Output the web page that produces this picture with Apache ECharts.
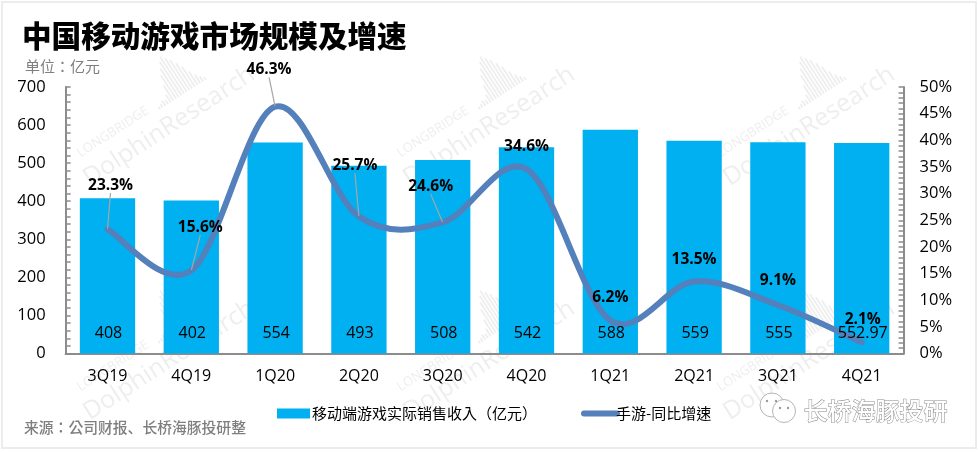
<!DOCTYPE html>
<html><head><meta charset="utf-8">
<style>html,body{margin:0;padding:0;background:#fff}#c{width:978px;height:452px}</style>
<script src="https://cdn.jsdelivr.net/npm/echarts@6/dist/echarts.min.js"></script></head>
<body><div id="c"></div>
<script>
const categories = ['3Q19','4Q19','1Q20','2Q20','3Q20','4Q20','1Q21','2Q21','3Q21','4Q21'];
const revenue = [408,402,554,493,508,542,588,559,555,552.97];
const growth = [23.3,15.6,46.3,25.7,24.6,34.6,6.2,13.5,9.1,2.1];
const labelShift = [[3,-44],[9,-43],[-6,-37],[-4,-51],[-12,-36],[0,-23],[0,-23],[0,-22],[0,-24],[1,-23]];
const leader = [true,true,true,true,true,false,false,false,false,false];
const FONT = '"Open Sans","Noto Sans CJK SC",sans-serif';
const CJK = '"Noto Sans CJK SC",sans-serif';
const TC = '"Noto Sans CJK TC",sans-serif';
const LINE = '#5480bc';

const graphics = [];
const WM = 'rgba(170,170,170,0.2)';
function watermark(x, y) {
  const kids = [
    {type:'text', x:0, y:0, style:{text:'LONGBRIDGE', font:'13px "Open Sans"', fill:WM}},
    {type:'text', x:-8, y:20, style:{text:'DolphinResearch', font:'25px "Open Sans"', fill:WM}}
  ];
  const hs = [3,4,6,5,9,18,28,34,40,44,40,36,30,24,16,10,6,3];
  hs.forEach((h,i) => kids.push({type:'rect', shape:{x:92+i*3.2, y:13-h, width:1.8, height:h}, style:{fill:WM}}));
  graphics.push({type:'group', x, y, rotation:33*Math.PI/180, silent:true, z:-1, children:kids});
}
[[75,149],[395,149],[715,149],[75,383],[395,383],[715,383]].forEach(p => watermark(p[0],p[1]));
graphics.push({type:'rect', shape:{x:2,y:2,width:974,height:446}, style:{fill:'none',stroke:'#ececec',lineWidth:2}, silent:true, z:-2});
graphics.push({type:'text', left:22, top:21, style:{text:'中国移动游戏市场规模及增速', font:'900 29.6px '+CJK, fill:'#000'}});
graphics.push({type:'text', left:25, top:59, style:{text:'单位：亿元', font:'15px '+TC, fill:'#7f7f7f'}});
graphics.push({type:'text', left:24, top:420, style:{text:'来源：公司财报{b|、}长桥海豚投研整', font:'500 14.8px '+TC, fill:'#7f7f7f',
  rich:{b:{font:'500 14.8px '+CJK, fill:'#7f7f7f'}}}});
const ico = (cx,cy,r)=>({type:'circle', shape:{cx,cy,r}, style:{fill:'#fff',stroke:'#b5b5b5',lineWidth:1}, z:5});
graphics.push(ico(772,405,12), ico(784,411,11.5));
[[767,401],[776,401],[780,408],[788,408]].forEach(p=>graphics.push({type:'circle',shape:{cx:p[0],cy:p[1],r:1.2},style:{fill:'#999'},z:6}));
graphics.push({type:'text', left:803, top:398, z:5, style:{text:'长桥海豚投研', font:'500 24px '+CJK, fill:'#fff', stroke:'#8c8c8c', lineWidth:1}});

// Spreadsheet-style spline: passes through every data point, tangents from the neighbours.
function renderSpline(params, api) {
  if (params.dataIndex !== 0) return null;
  const pts = growth.map((v,i)=>api.coord([i,v]));
  let d = 'M'+pts[0][0]+' '+pts[0][1];
  for (let i=0;i<pts.length-1;i++){
    const p0=pts[Math.max(i-1,0)],p1=pts[i],p2=pts[i+1],p3=pts[Math.min(i+2,pts.length-1)];
    d += ' C'+(p1[0]+(p2[0]-p0[0])/6)+' '+(p1[1]+(p2[1]-p0[1])/6)+' '+(p2[0]-(p3[0]-p1[0])/6)+' '+(p2[1]-(p3[1]-p1[1])/6)+' '+p2[0]+' '+p2[1];
  }
  return {type:'path', shape:{pathData:d}, style:{fill:'none',stroke:LINE,lineWidth:6,lineCap:'round'}, silent:true};
}
// Bar values sit near the foot of each bar and above the line.
function renderBarValue(params, api) {
  const p = api.coord([api.value(0), 0]);
  return {type:'text', x:p[0]+1, y:p[1]-20, silent:true,
    style:{text:String(api.value(1)), font:'16px "Open Sans"', fill:'#000', align:'center', verticalAlign:'middle'}};
}

const chart = echarts.init(document.getElementById('c'), null, {renderer:'canvas'});
const axisStyle = {lineStyle:{color:'#8c8c8c',width:2}};
chart.setOption({
  animation:false,
  backgroundColor:'#fff',
  graphic:graphics,
  grid:{left:65.6,right:74.4,top:87,bottom:98.5,containLabel:false},
  legend:{
    left:272, top:401, itemWidth:33, itemHeight:10, itemGap:44,
    textStyle:{fontFamily:TC,fontSize:15,color:'#000',padding:[0,0,0,-3]},
    data:[{name:'移动端游戏实际销售收入（亿元）',icon:'rect'},
      {name:'手游-同比增速',itemStyle:{opacity:0},lineStyle:{color:LINE,width:6,opacity:1,cap:'round'},
        textStyle:{padding:[0,0,0,-6]}}]
  },
  xAxis:{type:'category',data:categories,axisTick:{show:false},axisLine:axisStyle,
    axisLabel:{fontFamily:FONT,fontSize:16,color:'#000',margin:15}},
  yAxis:[
    {type:'value',min:0,max:700,interval:100,splitLine:{show:false},
      axisLine:{show:true,...axisStyle},axisTick:{show:true,inside:true,length:5,lineStyle:{color:'#8c8c8c',width:1.5}},
      minorTick:{show:true,splitNumber:5,length:5,lineStyle:{color:'#8c8c8c',width:1.5}},
      axisLabel:{fontFamily:FONT,fontSize:16.5,color:'#000',margin:20}},
    {type:'value',min:0,max:50,interval:5,position:'right',splitLine:{show:false},
      axisLine:{show:true,...axisStyle},axisTick:{show:true,inside:true,length:5,lineStyle:{color:'#8c8c8c',width:1.5}},
      minorTick:{show:true,splitNumber:5,length:5,lineStyle:{color:'#8c8c8c',width:1.5}},
      axisLabel:{fontFamily:FONT,fontSize:16.5,color:'#000',margin:16,formatter:'{value}%'}}
  ],
  series:[
    {name:'移动端游戏实际销售收入（亿元）',type:'bar',data:revenue,barWidth:'66%',z:2,
      itemStyle:{color:'#00b0f0'}},
    {name:'spline',type:'custom',yAxisIndex:1,coordinateSystem:'cartesian2d',data:growth.map((v,i)=>[i,v]),z:3,
      encode:{x:0,y:1},renderItem:renderSpline,silent:true,clip:false},
    {name:'barValues',type:'custom',coordinateSystem:'cartesian2d',data:revenue.map((v,i)=>[i,v]),z:4,
      encode:{x:0,y:1},renderItem:renderBarValue,silent:true,clip:false},
    {name:'手游-同比增速',type:'line',yAxisIndex:1,smooth:false,symbol:'circle',symbolSize:1,z:5,
      lineStyle:{color:LINE,width:6,opacity:0},itemStyle:{color:LINE,opacity:0},
      data:growth.map((v,i)=>({value:v,labelLine:{show:leader[i]}})),
      label:{show:true,position:'inside',fontFamily:FONT,fontSize:15.5,fontWeight:'bold',color:'#000',opacity:1,
        formatter:p=>p.value.toFixed(1)+'%'},
      labelLine:{show:true,lineStyle:{color:'#a6a6a6',width:1.2}},
      labelLayout:p=>{const s=labelShift[p.dataIndex];return {dx:s[0],dy:s[1]};}}
  ]
});
</script></body></html>
